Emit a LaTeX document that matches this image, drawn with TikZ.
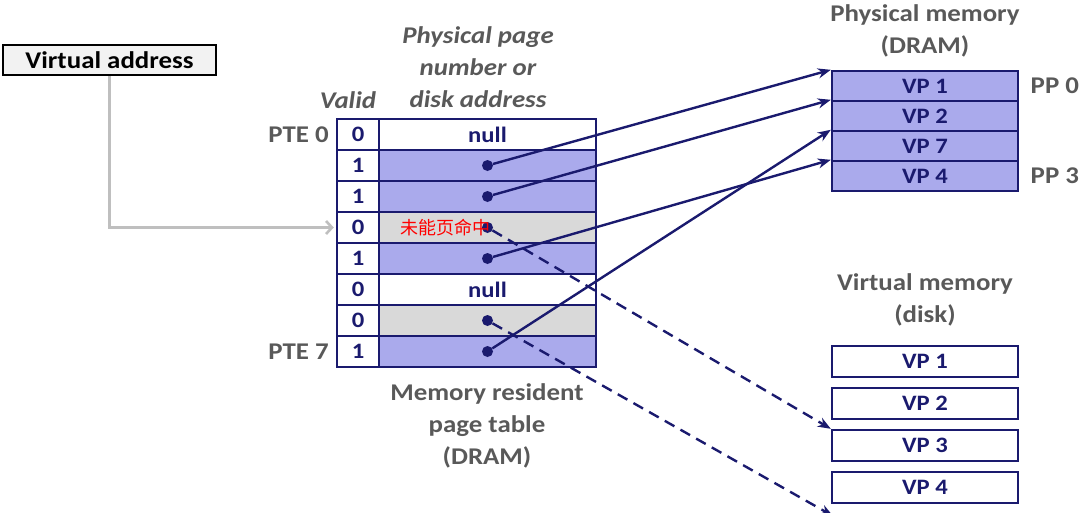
\documentclass[tikz,border=0pt]{standalone}
\usepackage{fontspec}
\setmainfont[FakeStretch=1.12]{Carlito}
\newfontfamily\cjk{Noto Sans CJK SC}
\usepackage{tikz}
\usetikzlibrary{positioning,arrows.meta}
\usepackage{xcolor}
\definecolor{navy}{RGB}{26,26,110}
\definecolor{pgblue}{RGB}{170,170,236}
\definecolor{pggray}{RGB}{217,217,217}
\definecolor{vagray}{RGB}{242,242,242}
\definecolor{lblgray}{RGB}{89,89,89}
\definecolor{linegray}{RGB}{191,191,191}

\begin{document}
\begin{tikzpicture}[x=1pt, y=-1pt,
    ptcell/.style={draw=navy, line width=2.4, minimum height=31, inner sep=0, text=navy, font=\fontsize{22}{22}\selectfont\bfseries},
    lbl/.style={text=lblgray, font=\fontsize{24}{32}\selectfont\bfseries, align=center},
    ilbl/.style={text=lblgray, font=\fontsize{24}{32}\selectfont\bfseries\itshape, align=center},
    pdot/.style={circle, fill=navy, inner sep=0, minimum size=11},
    ptr/.style={navy, line width=2.4, -{Stealth[length=13,width=10]}},
    dashpat/.style={dash pattern=on 11pt off 7pt}]
            \useasboundingbox (0,0) rectangle (1080,512);
            % Virtual address
            \node[draw=black, fill=vagray, line width=1.6, minimum width=213, minimum height=30, inner sep=0, font=\fontsize{24}{24}\selectfont\bfseries] (va) at (109.5,60) {Virtual address};
            % Tabela de paginas
            \foreach \v/\f/\t [count=\i from 0] in {0/white/null,1/pgblue/{},1/pgblue/{},0/pggray/{},1/pgblue/{},0/white/null,0/pggray/{},1/pgblue/{}}{
                \node[ptcell, fill=white, minimum width=42] (v\i) at (358,134.5+31*\i) {\v};
                \node[ptcell, fill=\f, minimum width=217] (a\i) at (487.5,134.5+31*\i) {\t};
            }
            \foreach \i in {1,2,3,4,6,7} \node[pdot] (d\i) at (a\i) {};
            \node[text=red, inner sep=0, font=\cjk\fontsize{18}{18}\selectfont, right=22pt of a3.west] (miss) {未能页命中};
            \node[lbl, left=3.5pt of v0] (pte0) {PTE 0};
            \node[lbl, left=3.5pt of v7] (pte7) {PTE 7};
            \node[ilbl] (valid) at (348,100) {Valid};
            \node[ilbl] (ppn) at (478,67) {Physical page\\number or\\disk address};
            \node[lbl] (ptname) at (487,426) {Memory resident\\page table\\(DRAM)};
            % Memoria fisica
            \foreach \t [count=\i] in {VP 1,VP 2,VP 7,VP 4}
                \node[ptcell, fill=pgblue, minimum width=186, minimum height=30] (pm\i) at (925,56+30*\i) {\t};
            \node[lbl] (pmname) at (925,31) {Physical memory\\(DRAM)};
            \node[lbl, right=8pt of pm1] (pp0) {PP 0};
            \node[lbl, right=8pt of pm4] (pp3) {PP 3};
            % Memoria virtual
            \foreach \i in {1,...,4}
                \node[ptcell, fill=white, minimum width=186] (vm\i) at (925,319.5+42*\i) {VP \i};
            \node[lbl] (vmname) at (925,300) {Virtual memory\\(disk)};
            \coordinate (vm6) at (833,516);
            % Setas
            \draw[linegray, line width=2.6, -{Straight Barb[length=6,width=13]}] (va.south) |- ([xshift=-2]v3.west);
            \draw[ptr] (d1) -- (pm1.north west);
            \draw[ptr] (d2) -- (pm2.north west);
            \draw[ptr] (d4) -- (pm4.north west);
            \draw[ptr] (d7) -- (pm3.north west);
            \draw[ptr, dashpat] (d3) -- (vm3.north west);
            \draw[ptr, dashpat] (d6) -- (vm6);
        \end{tikzpicture}
\end{document}
